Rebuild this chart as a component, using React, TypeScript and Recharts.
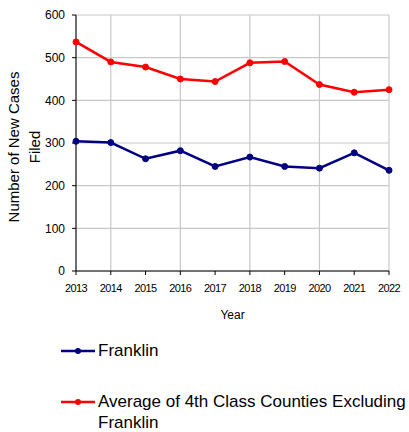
import { LineChart, Line, XAxis, YAxis, CartesianGrid } from "recharts";

const years = ["2013", "2014", "2015", "2016", "2017", "2018", "2019", "2020", "2021", "2022"];
const franklin = [304, 301, 263, 282, 245, 267, 245, 241, 277, 236];
const average = [537, 490, 478, 450, 444, 488, 491, 437, 419, 425];
const yTicks = [0, 100, 200, 300, 400, 500, 600];

const data = years.map((year, i) => ({
  year,
  franklin: franklin[i],
  average: average[i],
}));

const FONT = "'Liberation Sans', Arial, sans-serif";

function YLabel({ viewBox }: any) {
  const cy = viewBox.y + viewBox.height / 2 + 4;
  return (
    <text
      transform={`rotate(-90, 19, ${cy})`}
      x={19}
      y={cy}
      textAnchor="middle"
      fontFamily={FONT}
      fontSize={15}
      fill="#000"
    >
      <tspan x={19} dy={0}>Number of New Cases</tspan>
      <tspan x={19} dy={21}>Filed</tspan>
    </text>
  );
}

function LegendBox() {
  const items = [
    { color: "#000080", lines: ["Franklin"] },
    { color: "#ff0000", lines: ["Average of 4th Class Counties Excluding", "Franklin"] },
  ];
  return (
    <div
      style={{
        position: "absolute",
        left: 59,
        top: 340,
        width: 360,
        fontFamily: FONT,
        fontSize: 17,
        color: "#000",
        lineHeight: "21px",
      }}
    >
      {items.map((it, i) => (
        <div key={i} style={{ display: "flex", alignItems: "flex-start", marginBottom: i === 0 ? 30 : 0 }}>
          <svg width={39} height={21} style={{ flexShrink: 0 }}>
            <line x1={2} y1={11} x2={36} y2={11} stroke={it.color} strokeWidth={2.5} />
            <circle cx={19} cy={11} r={3} fill={it.color} />
          </svg>
          <div style={{ whiteSpace: "nowrap" }}>
            {it.lines.map((l) => (
              <div key={l}>{l}</div>
            ))}
          </div>
        </div>
      ))}
    </div>
  );
}

export default function App() {
  return (
    <div style={{ position: "absolute", left: 0, top: 0, width: 409, height: 432, background: "#fff", overflow: "hidden" }}>
      <LineChart width={409} height={432} data={data} margin={{ top: 15, right: 20, left: 0, bottom: 111 }}>
        <CartesianGrid stroke="#c8c8c8" strokeWidth={1.2} />
        <XAxis
          dataKey="year"
          stroke="#000"
          tickSize={4}
          tick={{ fill: "#000", fontSize: 11, fontFamily: FONT, letterSpacing: -0.6 }}
          tickMargin={9}
          label={{ value: "Year", position: "insideBottom", offset: 2, fill: "#000", fontSize: 12, fontFamily: FONT }}
          height={50}
        />
        <YAxis
          domain={[0, 600]}
          ticks={yTicks}
          stroke="#000"
          tickSize={4}
          tickMargin={7}
          tick={{ fill: "#000", fontSize: 12, fontFamily: FONT }}
          width={76}
          label={<YLabel />}
        />
        <Line
          dataKey="franklin"
          stroke="#000080"
          strokeWidth={2.5}
          dot={{ r: 3, fill: "#000080", stroke: "#000080", strokeWidth: 1 }}
          isAnimationActive={false}
        />
        <Line
          dataKey="average"
          stroke="#ff0000"
          strokeWidth={2.5}
          dot={{ r: 3, fill: "#ff0000", stroke: "#ff0000", strokeWidth: 1 }}
          isAnimationActive={false}
        />
      </LineChart>
      <LegendBox />
    </div>
  );
}
